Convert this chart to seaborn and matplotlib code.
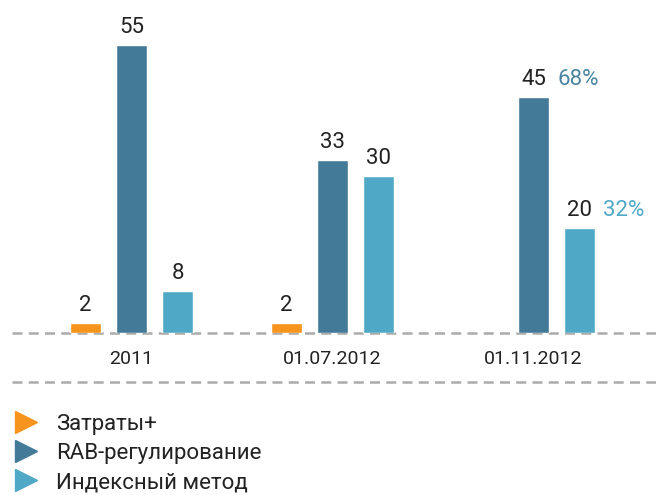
import matplotlib
matplotlib.use("Agg")
import matplotlib.pyplot as plt
from matplotlib.lines import Line2D
import numpy as np
import pandas as pd
import seaborn as sns

# data
dates = ["2011", "01.07.2012", "01.11.2012"]
series = ["Затраты+", "RAB-регулирование", "Индексный метод"]
cost_plus = [2, 2, np.nan]
rab = [55, 33, 45]
index_method = [8, 30, 20]
shares = {"RAB-регулирование": "68%", "Индексный метод": "32%"}

colors = ["#F7941D", "#427A97", "#50A8C7"]

rows = []
for name, vals in zip(series, [cost_plus, rab, index_method]):
    for d, v in zip(dates, vals):
        if not np.isnan(v):
            rows.append({"date": d, "series": name, "value": v})
df = pd.DataFrame(rows)

sns.set_style("white")
plt.rcParams["font.family"] = ["Roboto", "DejaVu Sans"]

fig = plt.figure(figsize=(6.56, 4.95), dpi=100)
ax = fig.add_axes([12 / 656, 162 / 495, 1 - 12 / 656, 333 / 495])

sns.barplot(data=df, x="date", y="value", hue="series", order=dates,
            hue_order=series, palette=colors, width=0.69, gap=0.33,
            saturation=1, legend=False, ax=ax, zorder=3)

ax.set_xlim(-0.5945, 2.609)
ax.set_ylim(0, 63.5)
ax.axhline(0, color="#ABABAB", lw=1.8, ls=(0, (4, 2.5)), zorder=1, clip_on=False)
for s in ax.spines.values():
    s.set_visible(False)
ax.set_yticks([])
ax.set_xlabel("")
ax.set_ylabel("")
ax.tick_params(axis="x", length=0, pad=12, labelsize=14, colors="#222222")

# value labels
for cont in ax.containers:
    ax.bar_label(cont, fmt="%d", padding=5, fontsize=16, color="#222222")

# share labels next to last group
share_colors = {"RAB-регулирование": "#4A84A2", "Индексный метод": "#50A8C7"}
for i, name in enumerate(series):
    if name in shares:
        bar = ax.containers[i].patches[-1]
        x = bar.get_x() + bar.get_width() / 2
        ax.annotate(shares[name], (x, bar.get_height()), xytext=(17, 5),
                    textcoords="offset points", ha="left", va="bottom",
                    fontsize=16, color=share_colors[name])

# second dashed line under the tick labels
fig.add_artist(Line2D([12 / 656, 1], [(495 - 382) / 495] * 2,
                      transform=fig.transFigure, color="#ABABAB", lw=1.8,
                      ls=(0, (4, 2.5))))

handles = [Line2D([], [], marker=">", ls="none", color=c, markersize=16)
           for c in colors]
fig.legend(handles, series, loc="upper left",
           bbox_to_anchor=(2 / 656, (495 - 403) / 495), frameon=False,
           fontsize=16, handlelength=1.2, handletextpad=0.75,
           labelspacing=0.36, borderpad=0, labelcolor="#222222")

fig.savefig("out.png", dpi=100)
